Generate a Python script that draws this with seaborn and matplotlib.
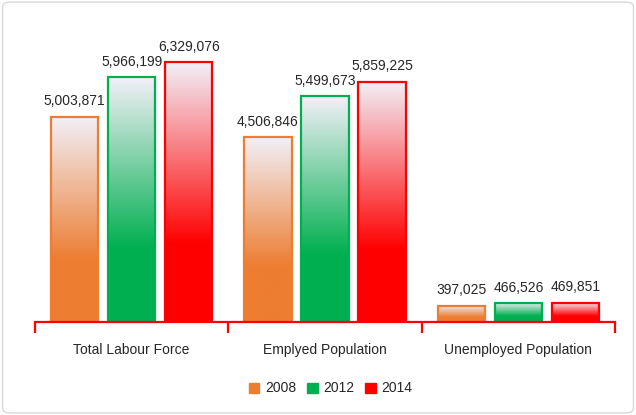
import numpy as np
import pandas as pd
import matplotlib
matplotlib.use("Agg")
import matplotlib.pyplot as plt
from matplotlib.colors import to_rgb
from matplotlib.patches import Patch, FancyBboxPatch
import seaborn as sns

categories = ["Total Labour Force", "Emplyed Population", "Unemployed Population"]
years = ["2008", "2012", "2014"]
values_2008 = [5003871, 4506846, 397025]
values_2012 = [5966199, 5499673, 466526]
values_2014 = [6329076, 5859225, 469851]
colors = ["#ED7D31", "#00B050", "#FF0000"]

rows = []
for yr, vals in zip(years, [values_2008, values_2012, values_2014]):
    for c, v in zip(categories, vals):
        rows.append({"category": c, "year": yr, "value": v})
df = pd.DataFrame(rows)

sns.set_theme(style="white")
plt.rcParams["font.family"] = ["Liberation Sans", "DejaVu Sans"]

fig = plt.figure(figsize=(6.36, 4.15), dpi=100)
ax = fig.add_axes([0.055, 0.224, 0.912, 0.692])

sns.barplot(data=df, x="category", y="value", hue="year", hue_order=years,
            palette=colors, width=0.885, gap=0.17, ax=ax, errorbar=None)

ax.set_ylim(0, 7000000)
ax.set_xlim(-0.5, 2.5)


def gradient_img(base, n=200):
    b = np.array(to_rgb(base))
    top = np.array([0.95, 0.94, 0.97])
    t = np.linspace(0, 1, n)  # 0 bottom -> 1 top
    mix = np.clip((t - 0.3) / 0.7, 0, 1)
    cols = b[None, :] * (1 - mix[:, None]) + top[None, :] * mix[:, None]
    return cols[:, None, :]


for cont, col in zip(ax.containers, colors):
    img = gradient_img(col)
    for bar in cont:
        x, y = bar.get_x(), bar.get_y()
        w, h = bar.get_width(), bar.get_height()
        bar.set_facecolor("none")
        bar.set_edgecolor(col)
        bar.set_linewidth(1.6)
        im = ax.imshow(img, extent=[x, x + w, y, y + h], origin="lower",
                       aspect="auto", zorder=bar.get_zorder() - 0.1,
                       interpolation="bilinear")
        im.set_clip_path(bar)
    ax.bar_label(cont, labels=[f"{v:,.0f}" for v in cont.datavalues],
                 padding=6, fontsize=10, color="#262626")

ax.set_xlim(-0.5, 2.5)
ax.set_ylim(0, 7000000)

for s in ["top", "right", "left"]:
    ax.spines[s].set_visible(False)
ax.spines["bottom"].set_color("#FF0000")
ax.spines["bottom"].set_linewidth(1.6)
ax.set_yticks([])
ax.set_xlabel("")
ax.set_ylabel("")
ax.set_xticks([0, 1, 2])
ax.set_xticklabels(categories, fontsize=10, color="#262626")
ax.set_xticks([-0.5, 0.5, 1.5, 2.5], minor=True)
ax.tick_params(axis="x", which="major", length=0, pad=15)
ax.tick_params(axis="x", which="minor", length=8, width=1.6, color="#FF0000",
               direction="out", bottom=True)

leg = ax.get_legend()
if leg is not None:
    leg.remove()
handles = [Patch(facecolor=c, edgecolor=c, linewidth=1.0) for c in colors]
fig.legend(handles, years, loc="center", bbox_to_anchor=(0.52, 0.064),
           ncol=3, frameon=False, fontsize=10, handlelength=0.75,
           handleheight=0.75, handletextpad=0.4, columnspacing=0.8)

border = FancyBboxPatch((0.004, 0.005), 0.992, 0.99, boxstyle="round,pad=0,rounding_size=0.012",
                        transform=fig.transFigure, facecolor="none",
                        edgecolor="#D9D9D9", linewidth=1.0)
fig.patches.append(border)

fig.savefig("out.png", dpi=100)
